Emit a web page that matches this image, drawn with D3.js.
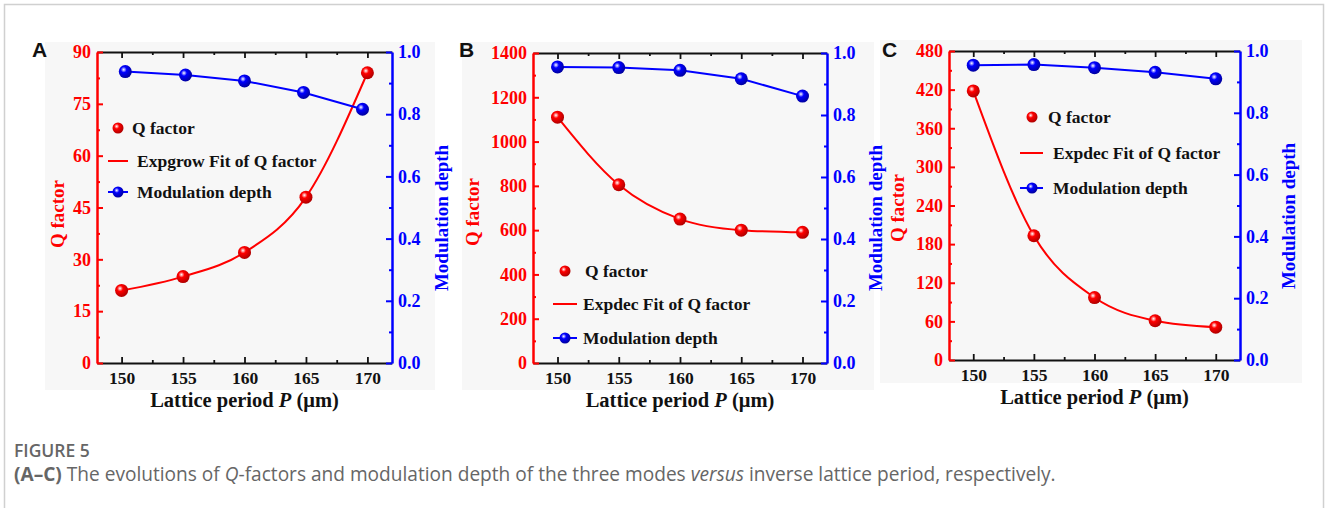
<!DOCTYPE html>
<html>
<head>
<meta charset="utf-8">
<script src="https://cdn.jsdelivr.net/npm/d3@7"></script>
<style>
  body { margin: 0; background: #fff; }
  svg { display: block; }
  .serif { font-family: "Liberation Serif", "Times New Roman", serif; font-weight: bold; }
</style>
</head>
<body>
<div id="fig"></div>
<script>
// Lattice period (µm) on the x axis
const period = [150, 155, 160, 165, 170];
const xTicks = [150, 155, 160, 165, 170];
const xMinor = [152.5, 157.5, 162.5, 167.5];
const modTicks = [0, 0.2, 0.4, 0.6, 0.8, 1.0];
const modMinor = [0.1, 0.3, 0.5, 0.7, 0.9];

// Panel A
const qA = [21, 25, 32, 48, 84];
const modA = [0.937, 0.926, 0.907, 0.870, 0.816];
const modPeriodA = [150.3, 155.2, 160, 164.8, 169.6];
const qTicksA = [0, 15, 30, 45, 60, 75, 90];
const qMinorA = [7.5, 22.5, 37.5, 52.5, 67.5, 82.5];

// Panel B
const qB = [1110, 805, 650, 600, 590];
const modB = [0.955, 0.953, 0.944, 0.917, 0.861];
const qTicksB = [0, 200, 400, 600, 800, 1000, 1200, 1400];
const qMinorB = [100, 300, 500, 700, 900, 1100, 1300];

// Panel C
const qC = [418, 193, 97, 61, 51];
const modC = [0.954, 0.956, 0.946, 0.931, 0.910];
const qTicksC = [0, 60, 120, 180, 240, 300, 360, 420, 480];
const qMinorC = [30, 90, 150, 210, 270, 330, 390, 450];

const RED = "#ff0000", BLUE = "#0000ff";

const W = 1328, H = 508;
const svg = d3.select("#fig").append("svg").attr("width", W).attr("height", H);

// gradients for the shaded ball markers
const defs = svg.append("defs");
[["ballRed", RED, "#b00000"], ["ballBlue", BLUE, "#0000a0"]].forEach(([id, c, dark]) => {
    const g = defs.append("radialGradient").attr("id", id)
        .attr("cx", "38%").attr("cy", "35%").attr("r", "65%");
    g.append("stop").attr("offset", "0%").attr("stop-color", "#ffffff");
    g.append("stop").attr("offset", "35%").attr("stop-color", c);
    g.append("stop").attr("offset", "100%").attr("stop-color", dark);
});

// outer frame
svg.append("rect").attr("x", 4.5).attr("y", 4.5).attr("width", 1319).attr("height", 520)
    .attr("fill", "none").attr("stroke", "#d0d0d0").attr("stroke-width", 1.5);

const panels = [
    { letter: "A", q: qA, mod: modA, modX: modPeriodA, qTicks: qTicksA, qMinor: qMinorA, qMax: 90,
      fit: "Expgrow Fit of Q factor",
      box: { l: 97, r: 392, t: 52, b: 363 }, bg: [45, 42, 390, 348],
      letterPos: [32, 57], qTitle: [57, 214], modTitle: [441, 218],
      legend: { x: 118, lx: [108, 128], tx: [132, 137, 137], y: [128, 161, 192] } },
    { letter: "B", q: qB, mod: modB, modX: period, qTicks: qTicksB, qMinor: qMinorB, qMax: 1400,
      fit: "Expdec Fit of Q factor",
      box: { l: 533, r: 827, t: 53, b: 363 }, bg: [462, 42, 412, 348],
      letterPos: [459, 57], qTitle: [472, 212], modTitle: [875, 218],
      legend: { x: 565, lx: [553, 577], tx: [585, 583, 583], y: [271, 304, 338] } },
    { letter: "C", q: qC, mod: modC, modX: period, qTicks: qTicksC, qMinor: qMinorC, qMax: 480,
      fit: "Expdec Fit of Q factor",
      box: { l: 949, r: 1240, t: 51, b: 360 }, bg: [880, 40, 422, 343],
      letterPos: [882, 57], qTitle: [897, 208], modTitle: [1288, 216],
      legend: { x: 1032, lx: [1020, 1043], tx: [1048, 1053, 1053], y: [117, 153, 188] } }
];

// light backgrounds of the three panel images first
panels.forEach(p => {
    svg.append("rect").attr("x", p.bg[0]).attr("y", p.bg[1]).attr("width", p.bg[2]).attr("height", p.bg[3])
        .attr("fill", "#f7f7f7");
});

panels.forEach(p => {
    const { l, r, t, b } = p.box;

    const x = d3.scaleLinear().domain([148, 172]).range([l, r]);
    const yQ = d3.scaleLinear().domain([0, p.qMax]).range([b, t]);
    const yM = d3.scaleLinear().domain([0, 1]).range([b, t]);

    // top axis (ticks only)
    const top = svg.append("g").attr("transform", `translate(0,${t})`);
    top.call(d3.axisTop(x).tickValues(xTicks).tickSizeInner(-6).tickSizeOuter(0).tickFormat(""));
    top.append("g").call(d3.axisTop(x).tickValues(xMinor).tickSizeInner(-3).tickSizeOuter(0).tickFormat(""))
        .select(".domain").remove();

    // bottom axis
    const bot = svg.append("g").attr("transform", `translate(0,${b})`);
    bot.call(d3.axisBottom(x).tickValues(xTicks).tickSizeInner(-6).tickSizeOuter(0).tickPadding(9));
    bot.append("g").call(d3.axisBottom(x).tickValues(xMinor).tickSizeInner(-3).tickSizeOuter(0).tickFormat(""))
        .select(".domain").remove();

    [top, bot].forEach(g => {
        g.selectAll("path.domain").attr("stroke", "#111").attr("stroke-width", 2);
        g.selectAll(".tick line").attr("stroke", "#111").attr("stroke-width", 1.8);
        g.selectAll("text").attr("class", "serif").attr("font-size", 17.5).attr("fill", "#111");
    });

    // left axis (Q factor)
    const left = svg.append("g").attr("transform", `translate(${l},0)`);
    left.call(d3.axisLeft(yQ).tickValues(p.qTicks).tickSizeInner(-6).tickSizeOuter(0).tickPadding(6)
        .tickFormat(d3.format("d")));
    left.append("g").call(d3.axisLeft(yQ).tickValues(p.qMinor).tickSizeInner(-3).tickSizeOuter(0).tickFormat(""))
        .select(".domain").remove();
    left.selectAll("path.domain").attr("stroke", RED).attr("stroke-width", 2.5);
    left.selectAll(".tick line").attr("stroke", RED).attr("stroke-width", 2);
    left.selectAll("text").attr("class", "serif").attr("font-size", 18).attr("fill", RED);

    // right axis (modulation depth)
    const right = svg.append("g").attr("transform", `translate(${r},0)`);
    right.call(d3.axisRight(yM).tickValues(modTicks).tickSizeInner(-6).tickSizeOuter(0).tickPadding(6)
        .tickFormat(d3.format(".1f")));
    right.append("g").call(d3.axisRight(yM).tickValues(modMinor).tickSizeInner(-3).tickSizeOuter(0).tickFormat(""))
        .select(".domain").remove();
    right.selectAll("path.domain").attr("stroke", BLUE).attr("stroke-width", 2.5);
    right.selectAll(".tick line").attr("stroke", BLUE).attr("stroke-width", 2);
    right.selectAll("text").attr("class", "serif").attr("font-size", 18).attr("fill", BLUE);

    // axis titles
    svg.append("text").attr("class", "serif").attr("font-size", 20.5).attr("fill", "#111")
        .attr("x", (x(150) + x(170)) / 2).attr("y", b + 44).attr("text-anchor", "middle")
        .html('Lattice period <tspan font-style="italic">P</tspan> (μm)');
    svg.append("text").attr("class", "serif").attr("font-size", 19).attr("fill", RED)
        .attr("text-anchor", "middle").attr("dominant-baseline", "central")
        .attr("transform", `translate(${p.qTitle[0]},${p.qTitle[1]}) rotate(-90)`).text("Q factor");
    svg.append("text").attr("class", "serif").attr("font-size", 19).attr("fill", BLUE)
        .attr("text-anchor", "middle").attr("dominant-baseline", "central")
        .attr("transform", `translate(${p.modTitle[0]},${p.modTitle[1]}) rotate(-90)`).text("Modulation depth");

    // panel letter
    svg.append("text").attr("x", p.letterPos[0]).attr("y", p.letterPos[1])
        .attr("font-family", "Liberation Sans, Arial, sans-serif").attr("font-weight", "bold")
        .attr("font-size", 21).attr("fill", "#111").text(p.letter);

    // fit curve through the Q points
    const qPts = period.map((v, i) => [v, p.q[i]]);
    svg.append("path").datum(qPts)
        .attr("d", d3.line().x(d => x(d[0])).y(d => yQ(d[1])).curve(d3.curveMonotoneX))
        .attr("fill", "none").attr("stroke", RED).attr("stroke-width", 2);

    // modulation depth line
    const mPts = p.modX.map((v, i) => [v, p.mod[i]]);
    svg.append("path").datum(mPts)
        .attr("d", d3.line().x(d => x(d[0])).y(d => yM(d[1])))
        .attr("fill", "none").attr("stroke", BLUE).attr("stroke-width", 2);

    svg.append("g").selectAll("circle").data(mPts).join("circle")
        .attr("cx", d => x(d[0])).attr("cy", d => yM(d[1])).attr("r", 6.5)
        .attr("fill", "url(#ballBlue)");
    svg.append("g").selectAll("circle").data(qPts).join("circle")
        .attr("cx", d => x(d[0])).attr("cy", d => yQ(d[1])).attr("r", 6.5)
        .attr("fill", "url(#ballRed)");

    // legend
    const lg = p.legend;
    const labels = ["Q factor", p.fit, "Modulation depth"];
    svg.append("circle").attr("cx", lg.x).attr("cy", lg.y[0]).attr("r", 5.5).attr("fill", "url(#ballRed)");
    svg.append("line").attr("x1", lg.lx[0]).attr("x2", lg.lx[1]).attr("y1", lg.y[1]).attr("y2", lg.y[1])
        .attr("stroke", RED).attr("stroke-width", 2);
    svg.append("line").attr("x1", lg.lx[0]).attr("x2", lg.lx[1]).attr("y1", lg.y[2]).attr("y2", lg.y[2])
        .attr("stroke", BLUE).attr("stroke-width", 2);
    svg.append("circle").attr("cx", lg.x).attr("cy", lg.y[2]).attr("r", 5.5).attr("fill", "url(#ballBlue)");
    labels.forEach((s, i) => {
        svg.append("text").attr("class", "serif").attr("font-size", 17.5).attr("fill", "#111")
            .attr("x", lg.tx[i]).attr("y", lg.y[i]).attr("dominant-baseline", "central").text(s);
    });
});

// caption
const cap = svg.append("g").attr("font-family", "Open Sans, Noto Sans, sans-serif").attr("fill", "#666");
cap.append("text").attr("x", 14).attr("y", 457).attr("font-size", 17.5).attr("font-weight", 600).text("FIGURE 5");
cap.append("text").attr("x", 14).attr("y", 481).attr("font-size", 19.1)
    .html('<tspan font-weight="bold">(A–C)</tspan> The evolutions of <tspan font-style="italic">Q</tspan>-factors and modulation depth of the three modes <tspan font-style="italic">versus</tspan> inverse lattice period, respectively.');
</script>
</body>
</html>
